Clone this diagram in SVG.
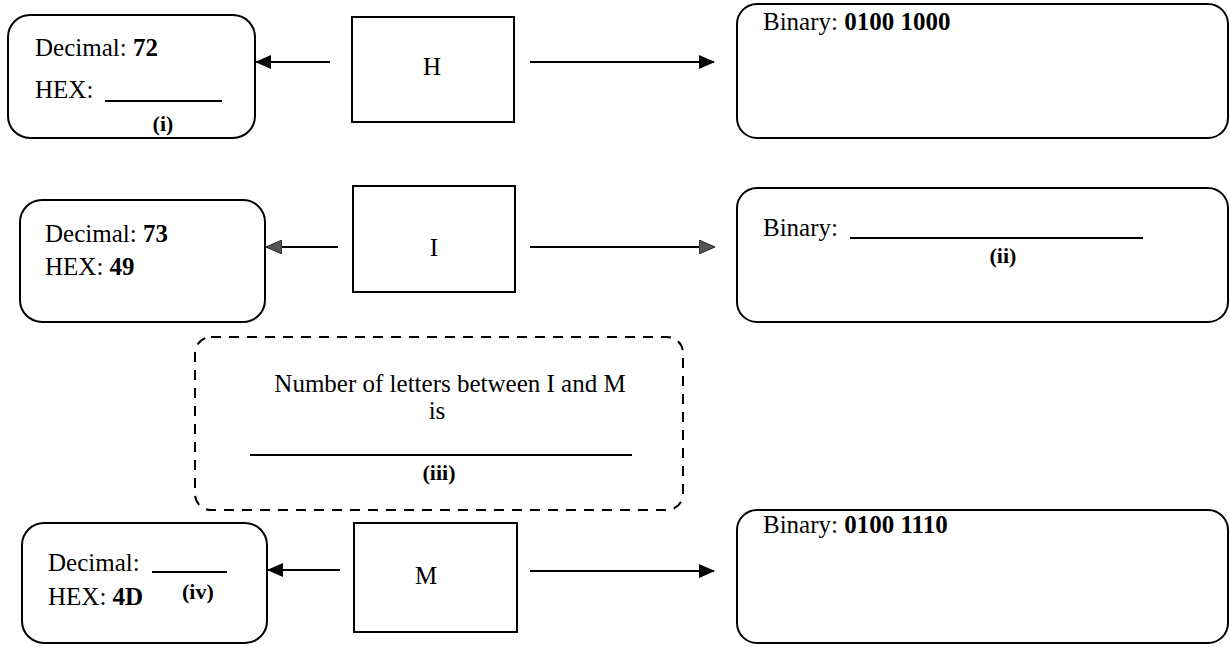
<svg xmlns="http://www.w3.org/2000/svg" width="1230" height="647" viewBox="0 0 1230 647">
  <style>
    text { font-family: "Liberation Serif", "Times New Roman", serif; font-size: 25px; fill: #000; }
    .b { font-weight: bold; }
    .sm { font-size: 22px; }
    .box { fill: #fff; stroke: #000; stroke-width: 2; }
    .dash { fill: none; stroke: #000; stroke-width: 2; stroke-dasharray: 10 8; }
    .blank { stroke: #000; stroke-width: 2; }
    .conn line { stroke: #000; stroke-width: 2; }
  </style>
  <defs>
    <marker id="ah" markerWidth="16" markerHeight="14" refX="15" refY="7" orient="auto" markerUnits="userSpaceOnUse">
      <path d="M0,0 L16,7 L0,14 Z" fill="#000"/>
    </marker>
    <marker id="ahg" markerWidth="16" markerHeight="14" refX="15" refY="7" orient="auto" markerUnits="userSpaceOnUse">
      <path d="M0,0 L16,7 L0,14 Z" fill="#555" stroke="#222" stroke-width="1"/>
    </marker>
  </defs>

  <rect width="1230" height="647" fill="#fff"/>

  <!-- connectors: letter box to decimal/hex box (left) and to binary box (right) -->
  <g id="connectors" class="conn">
    <line x1="330" y1="62" x2="256" y2="62" marker-end="url(#ah)"/>
    <line x1="530" y1="62" x2="714" y2="62" marker-end="url(#ah)"/>
    <line x1="338" y1="247" x2="267" y2="247" marker-end="url(#ahg)"/>
    <line x1="530" y1="247" x2="714" y2="247" marker-end="url(#ahg)"/>
    <line x1="340" y1="570" x2="268" y2="570" marker-end="url(#ah)"/>
    <line x1="530" y1="571" x2="714" y2="571" marker-end="url(#ah)"/>
  </g>

  <!-- row 1: H -->
  <g id="h-letter">
    <rect class="box" x="352" y="17" width="162" height="105"/>
    <text x="432" y="75" text-anchor="middle">H</text>
  </g>
  <g id="h-decimal">
    <rect class="box" x="8" y="15" width="247" height="123" rx="22"/>
    <text x="35" y="56">Decimal: <tspan class="b">72</tspan></text>
    <text x="35" y="98">HEX:</text>
    <line class="blank" x1="105" y1="101" x2="222" y2="101"/>
    <text class="b sm" x="163" y="131" text-anchor="middle">(i)</text>
  </g>
  <g id="h-binary">
    <rect class="box" x="737" y="4" width="491" height="134" rx="20"/>
    <text x="763" y="30">Binary: <tspan class="b">0100 1000</tspan></text>
  </g>

  <!-- row 2: I -->
  <g id="i-letter">
    <rect class="box" x="353" y="186" width="162" height="106"/>
    <text x="434" y="256" text-anchor="middle">I</text>
  </g>
  <g id="i-decimal">
    <rect class="box" x="20" y="200" width="245" height="122" rx="22"/>
    <text x="45" y="242">Decimal: <tspan class="b">73</tspan></text>
    <text x="45" y="275">HEX: <tspan class="b">49</tspan></text>
  </g>
  <g id="i-binary">
    <rect class="box" x="737" y="188" width="491" height="134" rx="20"/>
    <text x="763" y="236">Binary:</text>
    <line class="blank" x1="850" y1="238" x2="1143" y2="238"/>
    <text class="b sm" x="1003" y="263" text-anchor="middle">(ii)</text>
  </g>

  <!-- letters between I and M -->
  <g id="between">
    <rect class="dash" x="195" y="337" width="488" height="173" rx="16"/>
    <text x="450" y="392" text-anchor="middle">Number of letters between I and M</text>
    <text x="437" y="419" text-anchor="middle">is</text>
    <line class="blank" x1="250" y1="455" x2="632" y2="455"/>
    <text class="b sm" x="439" y="480" text-anchor="middle">(iii)</text>
  </g>

  <!-- row 3: M -->
  <g id="m-letter">
    <rect class="box" x="354" y="523" width="163" height="109"/>
    <text x="426" y="584" text-anchor="middle">M</text>
  </g>
  <g id="m-decimal">
    <rect class="box" x="22" y="523" width="245" height="120" rx="22"/>
    <text x="48" y="571">Decimal:</text>
    <line class="blank" x1="152" y1="572" x2="227" y2="572"/>
    <text x="48" y="605">HEX: <tspan class="b">4D</tspan></text>
    <text class="b sm" x="182" y="599">(iv)</text>
  </g>
  <g id="m-binary">
    <rect class="box" x="737" y="510" width="491" height="133" rx="20"/>
    <text x="763" y="533">Binary: <tspan class="b">0100 1110</tspan></text>
  </g>
</svg>
